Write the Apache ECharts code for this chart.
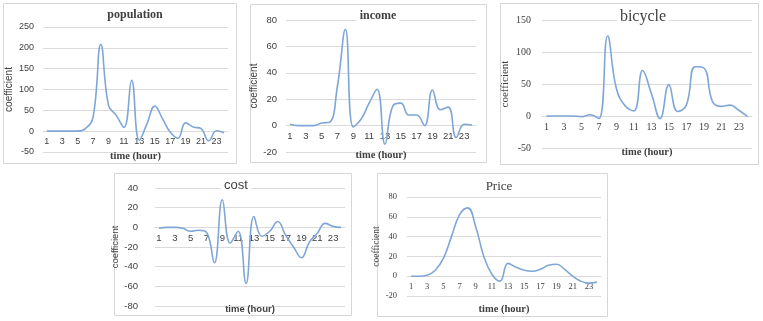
<!DOCTYPE html>
<html lang="en">
<head>
    <meta charset="UTF-8">
    <title>Hourly coefficients</title>
    <script src="https://cdn.jsdelivr.net/npm/echarts@6/dist/echarts.min.js"></script>
    <style>
        html, body { margin: 0; padding: 0; background: #fff; }
        #main { width: 763px; height: 321px; }
    </style>
</head>
<body>
    <div id="main"></div>

    <script>
        // hours 1..24
        const hours = ['1','2','3','4','5','6','7','8','9','10','11','12','13','14','15','16','17','18','19','20','21','22','23','24'];

        const population = [0, 0, 0, 0, 0, 6, 34, 208, 62, 38, 9, 122, -22, 18, 60, 30, -2, -17, 20, 10, 6, -23, 1, -4];
        const income = [1, 0, 0, 0, 2, 2.5, 30, 73, -1, 5, 17, 27.5, -14, 15, 17, 8, 8, 0, 27, 12, 14, -9, 1, 0.5];
        const bicycle = [0, 0, 0, 0, -1, 2, -4, 125, 43, 16, 8, 71, 35, -4, 49, 7, 17, 77, 75, 22, 15, 17, 9, -1];
        const cost = [-1, 0, 0, -1, -4, -3, -5, -36, 28, -16, -4, -57, 11, -9, -4, 6, -8, -20, -31, -15, -6, 4, 1, 0];
        const price = [0, 0, 1, 6, 18, 40, 62, 69, 50, 20, 2, -5, 13, 9, 6, 5, 7, 11, 12, 7, 0, -5, -7, -6];

        const lineColor = '#7ea6d6';
        const gridColor = '#dadada';
        const textColor = '#404040';
        const sans = 'Liberation Sans';
        const serif = 'Liberation Serif';

        // one entry per small chart
        const panels = [
            { title: 'population', data: population, min: -50, max: 250, step: 50,
              box: [3, 3, 233, 160], grid: [43, 27, 185, 125],
              titlePos: [132, 9], titleFont: { fontFamily: serif, fontWeight: 'bold', fontSize: 12 },
              labelFont: sans, labelSize: 9, yMargin: 9, nameFont: sans, nameSize: 10, nameGap: 29,
              xNameY: 151, xNameFont: serif, xNameSize: 10.5 },
            { title: 'income', data: income, min: -20, max: 80, step: 20,
              box: [250, 4, 236, 158], grid: [286, 20, 190, 132],
              titlePos: [375, 10], titleFont: { fontFamily: serif, fontWeight: 'bold', fontSize: 12 },
              labelFont: sans, labelSize: 9.5, yMargin: 9, nameFont: sans, nameSize: 10, nameGap: 27,
              xNameY: 150, xNameFont: serif, xNameSize: 10.5 },
            { title: 'bicycle', data: bicycle, min: -50, max: 150, step: 50,
              box: [500, 3, 258, 161], grid: [542, 20, 210, 128],
              titlePos: [640, 9], titleFont: { fontFamily: serif, fontWeight: 'normal', fontSize: 16 },
              labelFont: serif, labelSize: 10, yMargin: 11, nameFont: serif, nameSize: 11, nameGap: 31,
              xNameY: 147, xNameFont: serif, xNameSize: 10.5 },
            { title: 'cost', data: cost, min: -80, max: 40, step: 20,
              box: [114, 173, 237, 142], grid: [155, 188, 190, 118],
              titlePos: [233, 179], titleFont: { fontFamily: sans, fontWeight: 'normal', fontSize: 13 },
              labelFont: sans, labelSize: 9.5, yMargin: 17, nameFont: sans, nameSize: 9.5, nameGap: 33,
              xNameY: 304, xNameFont: sans, xNameSize: 9.5 },
            { title: 'Price', data: price, min: -20, max: 80, step: 20,
              box: [377, 173, 230, 143], grid: [407, 197, 194, 99],
              titlePos: [496, 180], titleFont: { fontFamily: serif, fontWeight: 'normal', fontSize: 13 },
              labelFont: serif, labelSize: 8.5, yMargin: 10, nameFont: serif, nameSize: 9.5, nameGap: 20,
              xNameY: 304, xNameFont: serif, xNameSize: 10.5 }
        ];

        const chart = echarts.init(document.getElementById('main'));

        const option = {
            animation: false,
            backgroundColor: '#fff',
            title: [],
            grid: [],
            xAxis: [],
            yAxis: [],
            series: [],
            graphic: []
        };

        panels.forEach((p, i) => {
            // move the category axis up to the y = 0 line
            const zeroOffset = p.grid[3] * (0 - p.min) / (p.max - p.min);

            option.graphic.push({
                type: 'rect',
                shape: { x: p.box[0] + 0.5, y: p.box[1] + 0.5, width: p.box[2], height: p.box[3] },
                style: { fill: null, stroke: '#d6d6d6', lineWidth: 1 },
                z: 0
            });
            option.grid.push({ left: p.grid[0], top: p.grid[1], width: p.grid[2], height: p.grid[3] });
            option.xAxis.push({
                type: 'category',
                gridIndex: i,
                data: hours,
                boundaryGap: true,
                offset: -zeroOffset,
                axisLine: { onZero: false, lineStyle: { color: gridColor } },
                axisTick: { show: false },
                axisLabel: { interval: 1, color: textColor, fontFamily: p.labelFont, fontSize: p.labelSize, margin: 6 },
                splitLine: { show: false }
            });
            option.yAxis.push({
                type: 'value',
                gridIndex: i,
                min: p.min,
                max: p.max,
                interval: p.step,
                name: 'coefficient',
                nameLocation: 'middle',
                nameGap: p.nameGap,
                nameTextStyle: { color: textColor, fontFamily: p.nameFont, fontSize: p.nameSize },
                axisLine: { show: false },
                axisTick: { show: false },
                axisLabel: { color: textColor, fontFamily: p.labelFont, fontSize: p.labelSize, margin: p.yMargin },
                splitLine: { lineStyle: { color: gridColor } }
            });
            option.series.push({
                type: 'line',
                xAxisIndex: i,
                yAxisIndex: i,
                data: p.data,
                smooth: 0.45,
                symbol: 'none',
                lineStyle: { color: lineColor, width: 1.6 },
                z: 3
            });
            option.title.push({
                text: p.title,
                left: p.titlePos[0],
                top: p.titlePos[1],
                textAlign: 'center',
                padding: [0, 3],
                backgroundColor: '#fff',
                textStyle: Object.assign({ color: textColor }, p.titleFont),
                z: 5
            });
            option.title.push({
                text: 'time (hour)',
                left: p.grid[0] + p.grid[2] / 2,
                top: p.xNameY,
                textAlign: 'center',
                padding: 0,
                textStyle: { color: textColor, fontFamily: p.xNameFont, fontWeight: 'bold', fontSize: p.xNameSize }
            });
        });

        chart.setOption(option);
    </script>
</body>
</html>
